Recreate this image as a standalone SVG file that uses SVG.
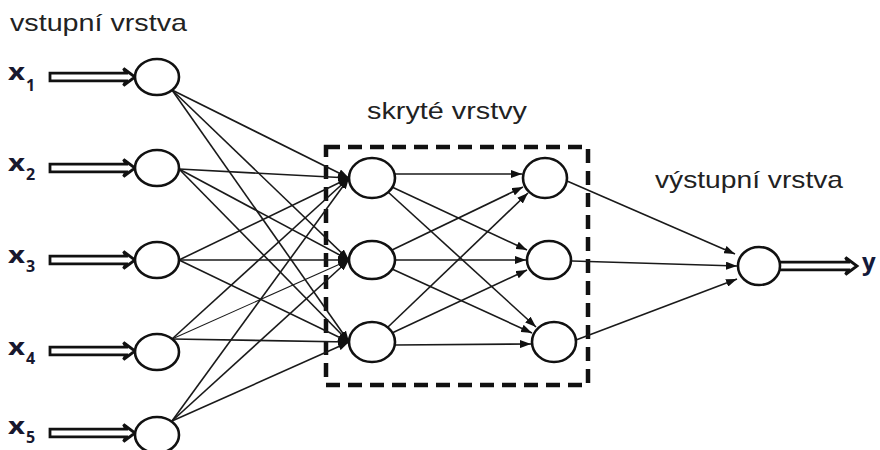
<svg xmlns="http://www.w3.org/2000/svg" width="880" height="450" viewBox="0 0 880 450">
  <defs>
    <marker id="arrow" markerUnits="userSpaceOnUse" markerWidth="11" markerHeight="8" refX="11" refY="4" orient="auto">
      <path d="M0,0 L11,4 L0,8 Z" fill="#111"/>
    </marker>
    <!-- hollow double-line arrow, drawn pointing right from the origin -->
    <path id="dbl" d="M0,-3.8 H76 L73.5,-8.5 L85,0 L73.5,8.5 L76,3.8 H0 Z"/>
  </defs>
  <style>
    .node { fill: #fff; stroke: #111; stroke-width: 2.6; }
    .edge { stroke: #1a1a1a; stroke-width: 1.6; fill: none; marker-end: url(#arrow); }
    .label { font-family: "Liberation Sans", Arial, sans-serif; font-size: 24px; fill: #222; }
    .var { font-family: "Open Sans", "Liberation Sans", sans-serif; font-weight: bold; fill: #18182e; }
    .dbl { fill: #fff; stroke: #111; stroke-width: 2.8; stroke-linejoin: miter; }
    .box { fill: none; stroke: #111; stroke-width: 4.5; stroke-dasharray: 14 8; }
  </style>

  <!-- layer captions -->
  <text class="label" x="10" y="31" textLength="177" lengthAdjust="spacingAndGlyphs">vstupní vrstva</text>
  <text class="label" x="367" y="119" textLength="160" lengthAdjust="spacingAndGlyphs">skryté vrstvy</text>
  <text class="label" x="655" y="188" textLength="188" lengthAdjust="spacingAndGlyphs">výstupní vrstva</text>

  <!-- hidden layers frame -->
  <rect class="box" x="326" y="147" width="262" height="238"/>

  <!-- connectors -->
  <g id="connectors">
    <!-- input -> hidden 1 -->
    <line class="edge" x1="172" y1="90" x2="349" y2="178"/>
    <line class="edge" x1="172" y1="90" x2="349" y2="260"/>
    <line class="edge" x1="172" y1="90" x2="349" y2="342"/>
    <line class="edge" x1="179" y1="169" x2="349" y2="178"/>
    <line class="edge" x1="179" y1="169" x2="349" y2="260"/>
    <line class="edge" x1="179" y1="169" x2="349" y2="342"/>
    <line class="edge" x1="179" y1="260" x2="349" y2="178"/>
    <line class="edge" x1="179" y1="260" x2="349" y2="260"/>
    <line class="edge" x1="179" y1="260" x2="349" y2="342"/>
    <line class="edge" x1="172" y1="339" x2="349" y2="178"/>
    <line class="edge" x1="172" y1="339" x2="349" y2="260" style="stroke-width:1.1"/>
    <line class="edge" x1="172" y1="339" x2="349" y2="342"/>
    <line class="edge" x1="172" y1="421" x2="349" y2="178"/>
    <line class="edge" x1="172" y1="421" x2="349" y2="260"/>
    <line class="edge" x1="172" y1="421" x2="349" y2="342"/>
    <!-- hidden 1 -> hidden 2 -->
    <line class="edge" x1="395" y1="174" x2="522" y2="174"/>
    <line class="edge" x1="392" y1="187" x2="527" y2="250"/>
    <line class="edge" x1="388" y1="192" x2="536" y2="327"/>
    <line class="edge" x1="392" y1="250" x2="523" y2="187"/>
    <line class="edge" x1="395" y1="260" x2="526" y2="260"/>
    <line class="edge" x1="392" y1="269" x2="532" y2="333"/>
    <line class="edge" x1="388" y1="327" x2="528" y2="193"/>
    <line class="edge" x1="392" y1="333" x2="527" y2="270"/>
    <line class="edge" x1="395" y1="345" x2="531" y2="344"/>
    <!-- hidden 2 -> output -->
    <line class="edge" x1="567" y1="181" x2="735" y2="254"/>
    <line class="edge" x1="572" y1="261" x2="737" y2="266"/>
    <line class="edge" x1="576" y1="340" x2="737" y2="279"/>
  </g>

  <!-- input layer -->
  <g id="in1">
    <use href="#dbl" class="dbl" x="50" y="77"/>
    <ellipse class="node" cx="157" cy="77" rx="22" ry="18"/>
    <text class="var" x="8" y="80" font-size="24" textLength="17" lengthAdjust="spacingAndGlyphs">x</text>
    <text class="var" x="26" y="91" font-size="16">1</text>
  </g>
  <g id="in2">
    <use href="#dbl" class="dbl" x="50" y="168"/>
    <ellipse class="node" cx="157" cy="168" rx="22" ry="18"/>
    <text class="var" x="8" y="171" font-size="24" textLength="17" lengthAdjust="spacingAndGlyphs">x</text>
    <text class="var" x="26" y="180" font-size="16">2</text>
  </g>
  <g id="in3">
    <use href="#dbl" class="dbl" x="50" y="260"/>
    <ellipse class="node" cx="157" cy="260" rx="22" ry="18"/>
    <text class="var" x="8" y="263" font-size="24" textLength="17" lengthAdjust="spacingAndGlyphs">x</text>
    <text class="var" x="26" y="272" font-size="16">3</text>
  </g>
  <g id="in4">
    <use href="#dbl" class="dbl" x="50" y="351"/>
    <ellipse class="node" cx="157" cy="352" rx="22" ry="18"/>
    <text class="var" x="8" y="355" font-size="24" textLength="17" lengthAdjust="spacingAndGlyphs">x</text>
    <text class="var" x="26" y="364" font-size="16">4</text>
  </g>
  <g id="in5">
    <use href="#dbl" class="dbl" x="50" y="433"/>
    <ellipse class="node" cx="157" cy="435" rx="22" ry="18"/>
    <text class="var" x="8" y="434" font-size="24" textLength="17" lengthAdjust="spacingAndGlyphs">x</text>
    <text class="var" x="26" y="443" font-size="16">5</text>
  </g>

  <!-- hidden layer 1 -->
  <g id="h11"><ellipse class="node" cx="372" cy="178" rx="23" ry="20"/></g>
  <g id="h12"><ellipse class="node" cx="372" cy="260" rx="23" ry="19"/></g>
  <g id="h13"><ellipse class="node" cx="372" cy="342" rx="23" ry="20"/></g>

  <!-- hidden layer 2 -->
  <g id="h21"><ellipse class="node" cx="545" cy="178" rx="22" ry="20"/></g>
  <g id="h22"><ellipse class="node" cx="549" cy="260" rx="22" ry="19"/></g>
  <g id="h23"><ellipse class="node" cx="554" cy="342" rx="22" ry="20"/></g>

  <!-- output layer -->
  <g id="out">
    <use href="#dbl" class="dbl" x="772" y="266"/>
    <ellipse class="node" cx="759" cy="266" rx="21" ry="19"/>
    <text class="var" x="862" y="270" font-size="24" style="fill:#141a3a">y</text>
  </g>
</svg>
